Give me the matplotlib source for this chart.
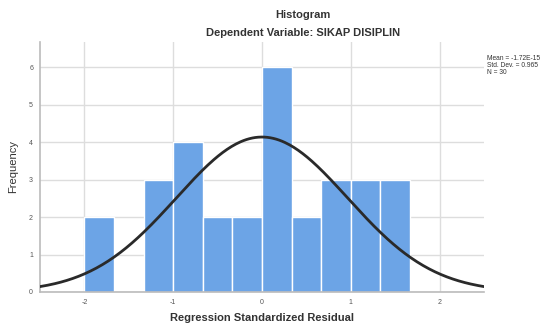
import numpy as np
import matplotlib.pyplot as plt

plt.rcParams['font.family'] = ['Liberation Sans', 'DejaVu Sans']

# histogram bins (bin width 1/3) and counts
bin_edges = [-2.0, -5/3, -4/3, -1.0, -2/3, -1/3, 0.0, 1/3, 2/3, 1.0, 4/3, 5/3]
counts = [2, 0, 3, 4, 2, 2, 6, 2, 3, 3, 3]
mean = -1.72e-15
std = 0.965
n = 30
x_ticks = [-2, -1, 0, 1, 2]
y_ticks = [0, 1, 2, 3, 4, 5, 6]

fig = plt.figure(figsize=(5.54, 3.24), dpi=100)
ax = fig.add_axes([0.0722, 0.0988, 0.8014, 0.7716])

edges = np.array(bin_edges)
widths = np.diff(edges)
ax.bar(edges[:-1], counts, width=widths, align='edge', color='#6ca4e6',
       edgecolor='white', linewidth=1.0, zorder=2)

# normal curve scaled to the histogram
xs = np.linspace(-2.5, 2.5, 300)
bw = widths[0]
ys = n * bw / (std * np.sqrt(2 * np.pi)) * np.exp(-0.5 * ((xs - mean) / std) ** 2)
ax.plot(xs, ys, color='#2a2a2a', linewidth=2.0, zorder=3)

ax.set_xlim(-2.5, 2.5)
ax.set_ylim(0, 6.67)
ax.set_xticks(x_ticks)
ax.set_yticks(y_ticks)
ax.set_xticklabels([str(t) for t in x_ticks], fontsize=5, color='#555555')
ax.set_yticklabels([str(t) for t in y_ticks], fontsize=5, color='#555555')
ax.tick_params(length=0, pad=5)
ax.grid(True, color='#dddddd', linewidth=1.0, zorder=0)
ax.set_axisbelow(True)
for s in ['top', 'right']:
    ax.spines[s].set_visible(False)
for s in ['left', 'bottom']:
    ax.spines[s].set_color('#bbbbbb')
    ax.spines[s].set_linewidth(1.2)

ax.set_xlabel('Regression Standardized Residual', fontsize=8, fontweight='bold',
              color='#333333', labelpad=5)
ax.set_ylabel('Frequency', fontsize=8, color='#333333', labelpad=8)

fig.text(0.547, 0.955, 'Histogram', ha='center', va='center', fontsize=8,
         fontweight='bold', color='#333333')
fig.text(0.547, 0.897, 'Dependent Variable: SIKAP DISIPLIN', ha='center', va='center',
         fontsize=8, fontweight='bold', color='#333333')

fig.text(0.879, 0.83, 'Mean = -1.72E-15\nStd. Dev. = 0.965\nN = 30', ha='left', va='top',
         fontsize=4.8, color='#333333', linespacing=0.95)

plt.savefig('out.png', dpi=100)
